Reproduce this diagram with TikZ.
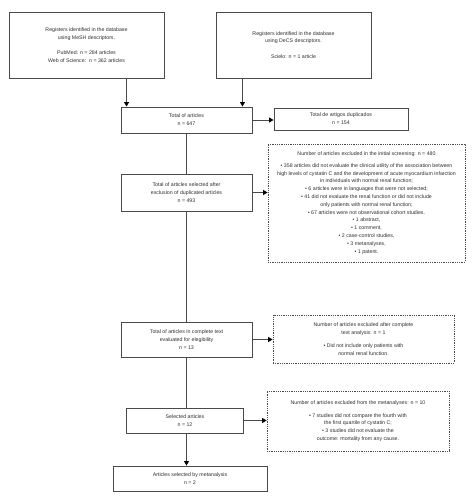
\documentclass[tikz,border=0pt]{standalone}
\usepackage{fontspec}
\setmainfont{Liberation Sans}
\usetikzlibrary{arrows.meta}
\definecolor{boxline}{HTML}{4A4A4A}
\definecolor{txt}{HTML}{303030}
\tikzset{
  box/.style={draw=boxline, line width=0.9pt, inner sep=0pt, align=center, text=txt,
    font=\fontsize{5.25}{7.8}\selectfont},
  dotbox/.style={draw=boxline, line width=0.8pt, densely dotted, inner sep=0pt, align=center, text=txt,
    font=\fontsize{5.25}{7.8}\selectfont},
  conn/.style={draw=boxline, line width=0.9pt},
  arr/.style={conn, -{Triangle[width=5pt,length=4.5pt,color=black]}},
}
\begin{document}
\begin{tikzpicture}[x=1pt,y=-1pt]
\useasboundingbox[fill=white] (0,0) rectangle (474,503);
\node[box, minimum width=155pt, minimum height=66pt] (b1) at (86.5,45)
  {Registers identified in the database\\using MeSH descriptors.\\[7.8pt]PubMed: n = 284 articles\\Web of Science:\ \ n = 362 articles};
\node[box, minimum width=155pt, minimum height=66pt] (b2) at (293.5,45)
  {Registers identified in the database\\using DeCS descriptors.\\[7.8pt]Scielo: n = 1 article};
\node[box, minimum width=131pt, minimum height=26pt] (tot) at (186.5,120)
  {Total of articles\\n = 647};
\node[box, minimum width=134pt, minimum height=22pt] (dup) at (341,119)
  {Total de artigos duplicados\\n = 154};
\node[dotbox, minimum width=197pt, minimum height=118pt] (ex1) at (366.5,203)
  {Number of articles excluded in the initial screening: n = 480\\[4pt]
   • 358 articles did not evaluate the clinical utility of the association between\\
   high levels of cystatin C and the development of acute myocardium infarction\\
   in individuals with normal renal function;\\
   • 6 articles were in languages that were not selected;\\
   • 41 did not evaluate the renal function or did not include\\
   only patients with normal renal function;\\
   • 67 articles were not observational cohort studies.\\
   • 1 abstract,\\
   • 1 comment,\\
   • 2 case-control studies,\\
   • 3 metanalyses,\\
   • 1 patent.};
\node[box, minimum width=131pt, minimum height=37pt] (sel1) at (186.5,192.5)
  {Total of articles selected after\\exclusion of duplicated articles\\n = 493};
\node[box, minimum width=131pt, minimum height=35pt] (comp) at (186.5,339.5)
  {Total of articles in complete text\\evaluated for elegibility\\n = 13};
\node[dotbox, minimum width=181pt, minimum height=48pt] (ex2) at (363.5,339)
  {Number of articles excluded after complete\\text analysis: n = 1\\[5pt]
   • Did not include only patients with\\normal renal function.};
\node[box, minimum width=117pt, minimum height=25pt] (sel) at (185,420.5)
  {Selected articles\\n = 12};
\node[dotbox, minimum width=182pt, minimum height=60pt] (ex3) at (358,421)
  {Number of articles excluded from the metanalyses: n = 10\\[5pt]
   • 7 studies did not compare the fourth with\\the first quartile of cystatin C;\\
   • 3 studies did not evaluate the\\outcome: mortality from any cause.};
\node[box, minimum width=154pt, minimum height=25pt] (fin) at (190,478.5)
  {Articles selected by metanalysis\\n = 2};
% connectors
\draw[arr] ([xshift=6pt]b1.south -| tot.north west) -- ([xshift=6pt]tot.north west);
\draw[arr] ([xshift=-10pt]b2.south -| tot.north east) -- ([xshift=-10pt]tot.north east);
\draw[arr] (tot.east) -- (tot.east -| dup.west);
\draw[conn] (tot.south) -- (sel1.north);
\draw[arr] (sel1.east) -- (sel1.east -| ex1.west);
\draw[conn] (sel1.south) -- (comp.north);
\draw[arr] (comp.east) -- (comp.east -| ex2.west);
\draw[conn] (comp.south) -- (comp.south |- sel.north);
\draw[arr] (sel.east) -- (sel.east -| ex3.west);
\draw[arr] (sel.south -| comp.south) -- (comp.south |- fin.north);
\end{tikzpicture}
\end{document}
